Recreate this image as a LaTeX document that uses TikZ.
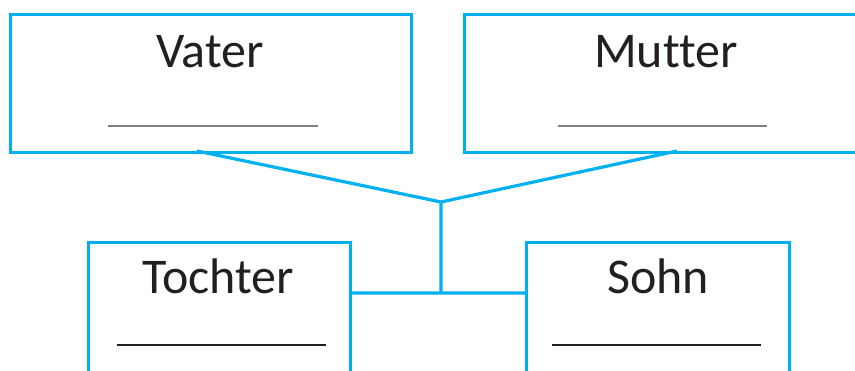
\documentclass[tikz,border=0pt]{standalone}
\usepackage{fontspec}
\setmainfont{Carlito}[Ligatures=NoCommon]
\usetikzlibrary{positioning}

\definecolor{famblue}{HTML}{00B0F0}
\definecolor{famtext}{HTML}{231F20}

\tikzset{
    person/.style={draw=famblue, line width=1.6pt, rectangle, inner sep=0pt},
    link/.style={draw=famblue, line width=1.6pt},
    pname/.style={anchor=base, text=famtext, font=\fontsize{25}{30}\selectfont},
    blank/.style={line width=0.6pt}
}

\begin{document}
\begin{tikzpicture}[x=0.5pt, y=-0.5pt]

    \useasboundingbox (0,0) rectangle (855,370);
    \clip (0,0) rectangle (855,370);

    \node [person, minimum width=200.5pt, minimum height=69pt, anchor=north west] (vater) at (9,13) {};
    \node [person, minimum width=200.5pt, minimum height=69pt, anchor=north west] (mutter) at (463,13) {};
    \node [person, minimum width=131pt, minimum height=69pt, anchor=north west] (tochter) at (87,241) {};
    \node [person, minimum width=131.5pt, minimum height=69pt, anchor=north west] (sohn) at (525,241) {};

    \node [pname] (nvater) at (210,67) {Vater};
    \node [pname] (nmutter) at (666,67) {Mutter};
    \node [pname] (ntochter) at (218,293) {Tochter};
    \node [pname] (nsohn) at (658,293) {Sohn};

    \draw [blank, draw=gray] (108,126) -- (318,126);
    \draw [blank, draw=gray] (558,126) -- (767,126);
    \draw [blank, draw=famtext] (117,345) -- (326,345);
    \draw [blank, draw=famtext] (552,345) -- (761,345);

    \coordinate (vfoot) at (197,151);
    \coordinate (mfoot) at (677,151);
    \coordinate (knot) at (441,202);
    \coordinate (mid) at (441,293);

    \path [link, line join=miter]
        (vfoot) -- (knot) -- (mfoot)
        (knot) -- (mid)
        (tochter.east |- mid) -- (sohn.west |- mid);

\end{tikzpicture}
\end{document}
